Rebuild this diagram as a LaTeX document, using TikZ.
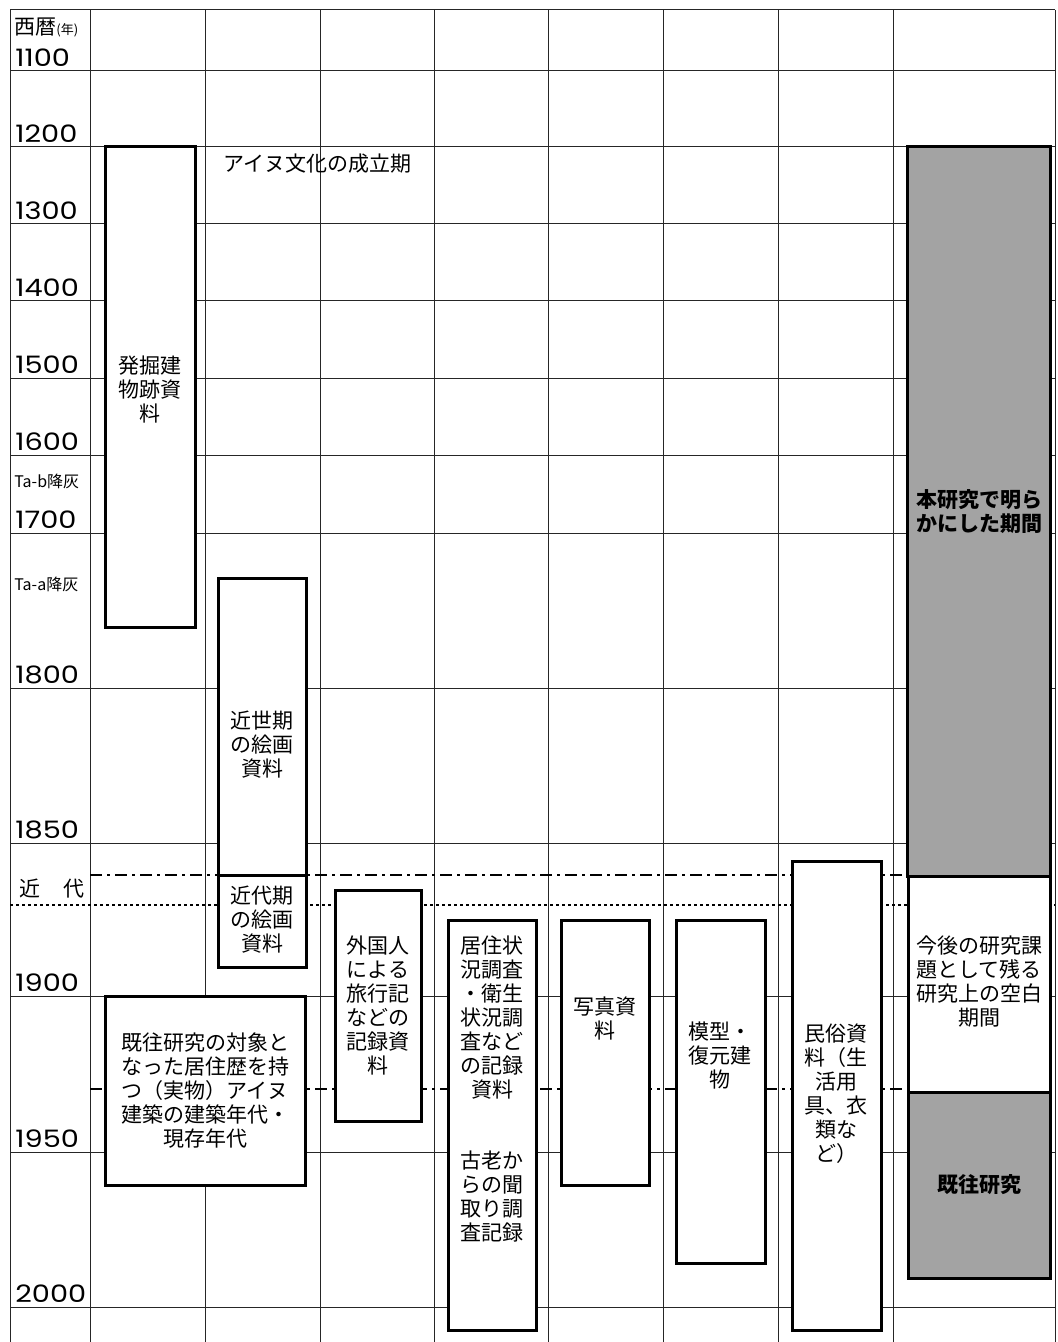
\documentclass[tikz,border=0pt]{standalone}
\usepackage{fontspec}
\setmainfont{Noto Sans CJK JP}
\newfontfamily\yearfont[FakeStretch=1.2]{Poppins}
\usepackage{tikz}

\begin{document}
\begin{tikzpicture}[
    x=0.5pt, y=-0.5pt,
    every node/.style={font=\fontsize{10.5}{12}\selectfont},
    gridline/.style={line width=0.5pt, black!85},
    periodline/.style={line width=1pt, dash pattern=on 6pt off 2.5pt on 1.5pt off 2.5pt},
    dotline/.style={line width=0.7pt, dash pattern=on 1.5pt off 1.5pt},
    srcbox/.style={draw, line width=1.5pt, fill=white},
    shadebox/.style={draw, line width=1.5pt, fill=black!36},
    boxtext/.style={align=center, inner sep=0pt},
    yearlabel/.style={anchor=south west, inner sep=0pt, font=\yearfont\fontsize{12}{12}\selectfont},
    sidelabel/.style={anchor=west, inner sep=0pt, font=\fontsize{8}{8}\selectfont}
]
\useasboundingbox (0,0) rectangle (1057,1342);
\fill[white] (0,0) rectangle (1057,1342);

% grid
\foreach \xx in {10, 90, 205, 320, 434, 548, 663, 778, 893, 1055}
    \draw[gridline] (\xx,10) -- (\xx,1342);
\foreach \yy in {10, 71, 147, 224, 301, 378, 455, 533, 688, 843, 996, 1152, 1307}
    \draw[gridline] (10,\yy) -- (1055,\yy);

% period lines
\draw[periodline] (90,875) -- (1055,875);
\draw[dotline] (10,905) -- (1055,905);
\draw[periodline] (90,1089) -- (1055,1089);

% year axis
\node[anchor=west, inner sep=0pt] (era) at (14,27) {西暦{\fontsize{6.5}{6.5}\selectfont(年)}};
\foreach \yr/\yy in {1100/71, 1200/147, 1300/224, 1400/301, 1500/378, 1600/455,
                     1700/533, 1800/688, 1850/843, 1900/996, 1950/1152, 2000/1307}
    \node[yearlabel] (y\yr) at (15,\yy-4) {\yr};
\node[sidelabel] (tab) at (14,481) {Ta-b降灰};
\node[sidelabel] (taa) at (14,584) {Ta-a降灰};
\node[inner sep=0pt] (kindai) at (52,889) {近\hspace{1.1em}代};

% source boxes
\draw[srcbox] (105,147) rectangle (195,627);
\draw[srcbox] (218,578) rectangle (306,875);
\draw[srcbox] (218,875) rectangle (306,967);
\draw[srcbox] (105,996) rectangle (305,1185);
\draw[srcbox] (335,890) rectangle (421,1121);
\draw[srcbox] (448,920) rectangle (536,1330);
\draw[srcbox] (561,920) rectangle (649,1185);
\draw[srcbox] (676,920) rectangle (765,1263);
\draw[srcbox] (792,861) rectangle (881,1330);

% result column
\draw[shadebox] (907,147) rectangle (1050,876);
\draw[srcbox] (908,876) rectangle (1050,1092);
\draw[shadebox] (908,1092) rectangle (1050,1278);

\node[anchor=west, inner sep=0pt] (ainu) at (223,164) {アイヌ文化の成立期};

\node[boxtext] (hakkutsu) at (150,390) {発掘建\\物跡資\\料};
\node[boxtext] (kinsei) at (262,745) {近世期\\の絵画\\資料};
\node[boxtext] (kindaiga) at (262,920) {近代期\\の絵画\\資料};
\node[boxtext] (kiou) at (205,1091) {既往研究の対象と\\なった居住歴を持\\つ（実物）アイヌ\\建築の建築年代・\\現存年代};
\node[boxtext] (gaikoku) at (378,1005) {外国人\\による\\旅行記\\などの\\記録資\\料};
\node[boxtext] (kyoju) at (492,1018) {居住状\\況調査\\・衛生\\状況調\\査など\\の記録\\資料};
\node[boxtext] (korou) at (492,1197) {古老か\\らの聞\\取り調\\査記録};
\node[boxtext] (shashin) at (605,1018) {写真資\\料};
\node[boxtext] (mokei) at (720,1056) {模型・\\復元建\\物};
\node[boxtext] (minzoku) at (836,1094) {民俗資\\料（生\\活用\\具、衣\\類な\\ど）};

\node[boxtext, font=\bfseries\fontsize{10.5}{12}\selectfont] (honken) at (979,512) {本研究で明ら\\かにした期間};
\node[boxtext] (kongo) at (979,982) {今後の研究課\\題として残る\\研究上の空白\\期間};
\node[boxtext, font=\bfseries\fontsize{10.5}{12}\selectfont] (kiouken) at (979,1185) {既往研究};

\end{tikzpicture}
\end{document}
